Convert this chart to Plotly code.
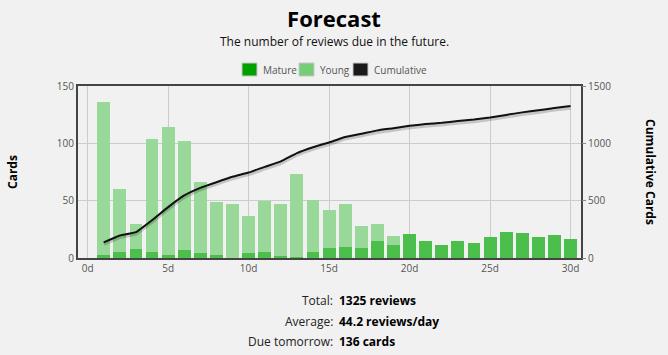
import numpy as np
import plotly.graph_objects as go

days = list(range(1, 31))
mature = [3, 5, 8, 5, 3, 7, 4, 3, 0, 4, 5, 2, 1, 5, 9, 10, 9, 15, 11, 21, 15, 11, 15, 13, 18, 23, 22, 18, 20, 17]
young = [133, 55, 22, 99, 111, 95, 62, 46, 47, 33, 45, 45, 72, 46, 33, 37, 19, 15, 8, 0, 0, 0, 0, 0, 0, 0, 0, 0, 0, 0]
totals = [m + y for m, y in zip(mature, young)]
cumulative = list(np.cumsum(totals))
x_ticks = [0, 5, 10, 15, 20, 25, 30]
x_tick_labels = ["0d", "5d", "10d", "15d", "20d", "25d", "30d"]
legend_names = ["Mature", "Young", "Cumulative"]
legend_colors = ["#00a000", "#77cc77", "#1a1a1a"]
summary_labels = ["Total:", "Average:", "Due tomorrow:"]
summary_values = ["1325 reviews", "44.2 reviews/day", "136 cards"]

FONT = "Open Sans, Noto Sans, sans-serif"
MATURE_BAR = "rgb(76,190,76)"
YOUNG_BAR = "rgb(152,216,152)"

fig = go.Figure()
fig.add_trace(go.Bar(x=days, y=mature, name="Mature", marker=dict(color=MATURE_BAR, line=dict(width=0)),
                     width=0.8, showlegend=False))
fig.add_trace(go.Bar(x=days, y=young, name="Young", marker=dict(color=YOUNG_BAR, line=dict(width=0)),
                     width=0.8, showlegend=False))
# shadow of the cumulative line
fig.add_trace(go.Scatter(x=days, y=[c - 14 for c in cumulative], yaxis="y2", mode="lines",
                         line=dict(color="rgba(0,0,0,0.18)", width=4, shape="spline", smoothing=0.3),
                         showlegend=False, hoverinfo="skip"))
fig.add_trace(go.Scatter(x=days, y=cumulative, yaxis="y2", mode="lines", name="Cumulative",
                         line=dict(color="#111111", width=2, shape="spline", smoothing=0.3),
                         showlegend=False))

pl, pr, pt, pb = 78, 668 - 87, 86, 355 - 97
W, H = 668, 355


def px_x(v):
    return (v - pl) / (pr - pl)


def px_y(v):
    return (pb - v) / (pb - pt)


fig.update_layout(
    width=W, height=H,
    margin=dict(l=78, r=87, t=86, b=97, autoexpand=False),
    paper_bgcolor="#f1f1f1", plot_bgcolor="#f1f1f1",
    barmode="stack", bargap=0.2, showlegend=False,
    font=dict(family=FONT, color="#555555", size=10),
    title=dict(text="<b>Forecast</b>", x=0.5, xanchor="center", y=1 - 19 / H, yanchor="middle",
               font=dict(size=22, color="#000000", family=FONT)),
    xaxis=dict(range=[-0.6, 30.65], tickvals=x_ticks, ticktext=x_tick_labels,
               showgrid=True, gridcolor="#cccccc", gridwidth=1,
               showline=True, linecolor="#444444", linewidth=2, mirror=True,
               zeroline=False, ticks="", tickfont=dict(size=10, color="#555555")),
    yaxis=dict(range=[0, 150], tickvals=[0, 50, 100, 150], showgrid=True, gridcolor="#cccccc",
               showline=True, linecolor="#444444", linewidth=2, mirror=True,
               zeroline=False, ticks="", tickfont=dict(size=10, color="#555555")),
    yaxis2=dict(range=[0, 1500], tickvals=[0, 500, 1000, 1500], overlaying="y", side="right",
                showgrid=False, zeroline=False, showline=False, ticks="outside", ticklen=4,
                tickcolor="#888888", tickfont=dict(size=10, color="#555555")),
)

annotations = [
    dict(text="The number of reviews due in the future.", x=334, y=41, xanchor="center",
         font=dict(size=12, color="#111111")),
    dict(text="<b>Cards</b>", x=12, y=172, textangle=-90, xanchor="center",
         font=dict(size=12, color="#000000")),
    dict(text="<b>Cumulative Cards</b>", x=651, y=172, textangle=90, xanchor="center",
         font=dict(size=12, color="#000000")),
]
rows_y = [300, 321, 341]
for lab, val, yy in zip(summary_labels, summary_values, rows_y):
    annotations.append(dict(text=lab, x=335, y=yy, xanchor="right",
                            font=dict(size=12, color="#222222")))
    annotations.append(dict(text="<b>" + val + "</b>", x=337, y=yy, xanchor="left",
                            font=dict(size=12, color="#000000")))

# manual legend
shapes = []
leg_x = [242, 299, 353]
for name, col, lx in zip(legend_names, legend_colors, leg_x):
    shapes.append(dict(type="rect", xref="paper", yref="paper",
                       x0=px_x(lx), x1=px_x(lx + 15), y0=px_y(76), y1=px_y(63),
                       fillcolor=col, line=dict(color="#c8c8c8", width=1)))
    annotations.append(dict(text=name, x=lx + 19, y=70, xanchor="left",
                            font=dict(size=10, color="#555555")))

out = []
for a in annotations:
    a = dict(a)
    a["x"] = px_x(a["x"])
    a["xref"] = "paper"
    a["y"] = px_y(a["y"])
    a["yref"] = "paper"
    a["yanchor"] = "middle"
    a["showarrow"] = False
    out.append(a)
fig.update_layout(annotations=out, shapes=shapes)

fig.write_html("out.html", config={"displayModeBar": False},
               post_script="document.body.style.margin='0';")
